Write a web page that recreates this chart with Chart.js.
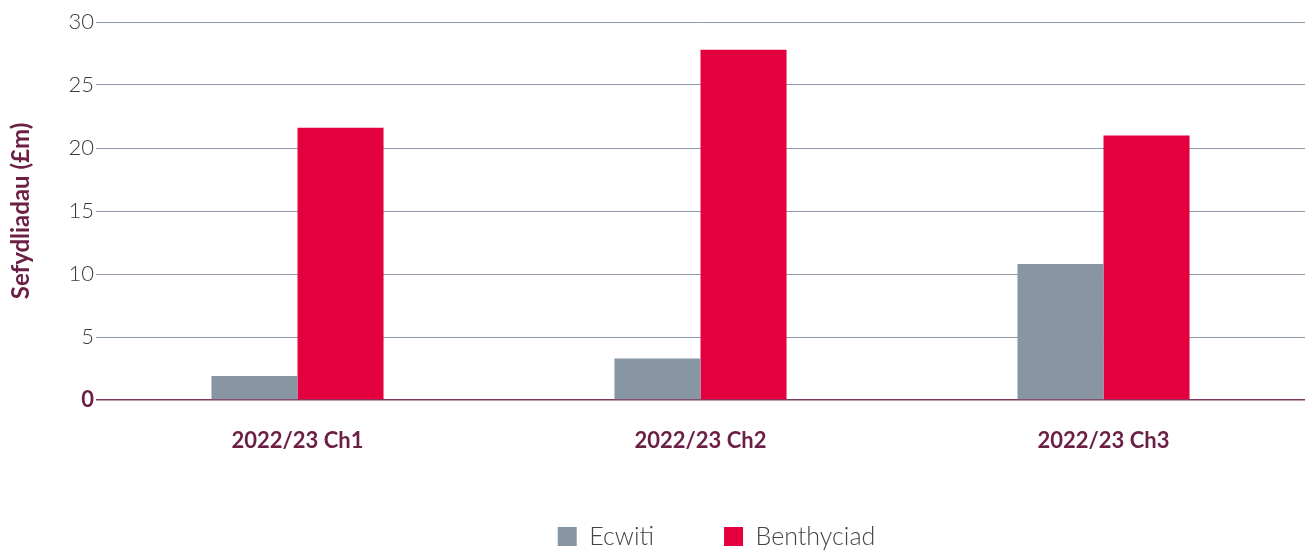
<!DOCTYPE html>
<html>
<head>
<meta charset="utf-8">
<script src="https://cdn.jsdelivr.net/npm/chart.js@4/dist/chart.umd.min.js"></script>
<style>
  html, body { margin: 0; padding: 0; background: #fff; }
  #wrap { width: 1313px; height: 552px; position: relative; }
</style>
</head>
<body>
<div id="wrap"><canvas id="investChart"></canvas></div>
<script>
const categories = ['2022/23 Ch1', '2022/23 Ch2', '2022/23 Ch3'];
const ecwiti = [1.9, 3.3, 10.8];
const benthyciad = [21.6, 27.8, 21.0];
const seriesNames = ['Ecwiti', 'Benthyciad'];

const maroon = '#6b1f45';
const ctx = document.getElementById('investChart').getContext('2d');

const isZero = c => c && c.tick && c.tick.value === 0;

// legend sits a little right of centre in the original
const legendShift = {
    id: 'legendShift',
    afterLayout(chart) {
        chart.legend.left += 64;
        chart.legend.right += 64;
    }
};

new Chart(ctx, {
    type: 'bar',
    data: {
        labels: categories,
        datasets: [{
            label: seriesNames[0],
            data: ecwiti,
            backgroundColor: '#8896a3',
            categoryPercentage: 0.427,
            barPercentage: 1
        }, {
            label: seriesNames[1],
            data: benthyciad,
            backgroundColor: '#e4003f',
            categoryPercentage: 0.427,
            barPercentage: 1
        }]
    },
    options: {
        responsive: true,
        maintainAspectRatio: false,
        animation: false,
        layout: {
            padding: { top: 22, right: 8, left: 0, bottom: -7 }
        },
        scales: {
            x: {
                afterFit: scale => { scale.height = 54; },
                grid: { display: false, drawTicks: false },
                border: { display: false },
                ticks: {
                    color: maroon,
                    font: { family: 'Lato', size: 22, weight: 'bold' },
                    padding: 28
                }
            },
            y: {
                min: 0,
                max: 30,
                afterFit: scale => { scale.width = 96; },
                border: { display: false },
                grid: {
                    drawTicks: false,
                    color: c => isZero(c) ? '#7d3a5e' : '#8e9aa9',
                    lineWidth: c => isZero(c) ? 1.5 : 1
                },
                ticks: {
                    stepSize: 5,
                    padding: 2,
                    color: c => isZero(c) ? maroon : '#3a3a3a',
                    font: c => isZero(c)
                        ? { family: 'Lato', size: 22, weight: 'bold' }
                        : { family: 'Lato', size: 22, weight: '300' }
                },
                title: {
                    display: true,
                    text: 'Sefydliadau (£m)',
                    color: maroon,
                    font: { family: 'Lato', size: 24, weight: 'bold' },
                    padding: { top: 7, bottom: 10 }
                }
            }
        },
        plugins: {
            legend: {
                position: 'bottom',
                labels: {
                    boxWidth: 19,
                    boxHeight: 19,
                    padding: 70,
                    color: '#444',
                    font: { family: 'Lato', size: 25, weight: '300' }
                }
            },
            tooltip: { enabled: false }
        }
    },
    plugins: [legendShift]
});
</script>
</body>
</html>
